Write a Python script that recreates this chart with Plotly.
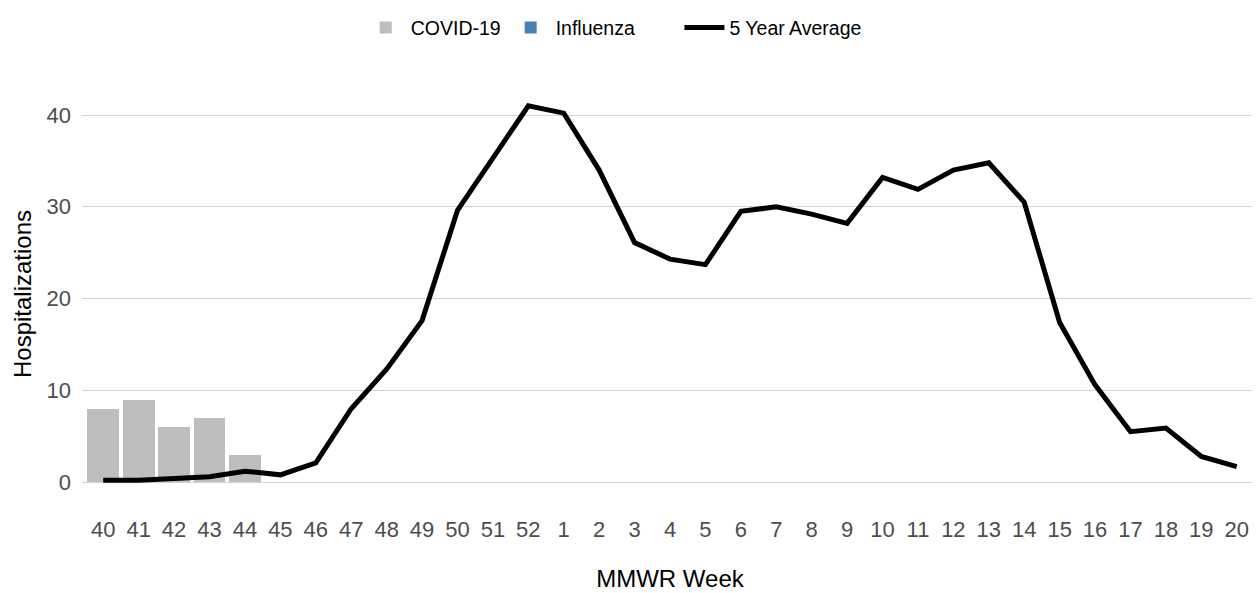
import plotly.graph_objects as go

weeks = ["40","41","42","43","44","45","46","47","48","49","50","51","52",
         "1","2","3","4","5","6","7","8","9","10","11","12","13","14","15",
         "16","17","18","19","20"]
covid_weeks = ["40","41","42","43","44"]
covid_values = [8, 9, 6, 7, 3]
flu_weeks = ["40","41","42","43","44"]
flu_values = [0, 0, 0, 0, 0]
avg5 = [0.2, 0.2, 0.4, 0.6, 1.2, 0.8, 2.1, 8.0, 12.3, 17.6, 29.6, 35.2, 41.0,
        40.2, 34.0, 26.1, 24.3, 23.7, 29.5, 30.0, 29.2, 28.2, 33.2, 31.9, 34.0,
        34.8, 30.5, 17.4, 10.6, 5.5, 5.9, 2.8, 1.7]

fig = go.Figure()
fig.add_trace(go.Bar(x=covid_weeks, y=covid_values, name="COVID-19",
                     marker=dict(color="#BEBEBE", line=dict(width=0)), width=0.9,
                     legend="legend"))
fig.add_trace(go.Bar(x=flu_weeks, y=flu_values, name="Influenza",
                     marker=dict(color="#4682B4", line=dict(width=0)), width=0.9,
                     legend="legend"))
fig.add_trace(go.Scatter(x=weeks, y=avg5, mode="lines", name="5 Year Average",
                         line=dict(color="black", width=5), legend="legend2"))

fig.update_layout(
    width=1252, height=585,
    barmode="stack",
    paper_bgcolor="white", plot_bgcolor="white",
    margin=dict(l=74, r=2, t=78, b=92),
    font=dict(family="Liberation Sans, Arial, sans-serif", size=22, color="#4D4D4D"),
    showlegend=True,
    legend=dict(orientation="h", x=0.237, xanchor="left", y=1.14, yanchor="middle",
                font=dict(size=19.5, color="black"), itemwidth=40,
                traceorder="normal"),
    legend2=dict(orientation="h", x=0.508, xanchor="left", y=1.14, yanchor="middle",
                 font=dict(size=19.5, color="black"), itemwidth=40),
    xaxis=dict(type="category", categoryorder="array", categoryarray=weeks,
               range=[-0.6, 32.6], showgrid=False, zeroline=False, showline=False,
               ticks="", tickfont=dict(size=22, color="#4D4D4D"), ticklabelstandoff=13,
               title=dict(text="MMWR Week", font=dict(size=24, color="black"), standoff=29)),
    yaxis=dict(range=[-2.05, 43.05], tickvals=[0, 10, 20, 30, 40],
               showgrid=True, gridcolor="#D3D3D3", gridwidth=1.2, zeroline=False,
               showline=False, ticks="", tickfont=dict(size=22, color="#4D4D4D"),
               ticklabelstandoff=10,
               title=dict(text="Hospitalizations", font=dict(size=24, color="black"), standoff=8)),
)

fig.write_html("out.html")
